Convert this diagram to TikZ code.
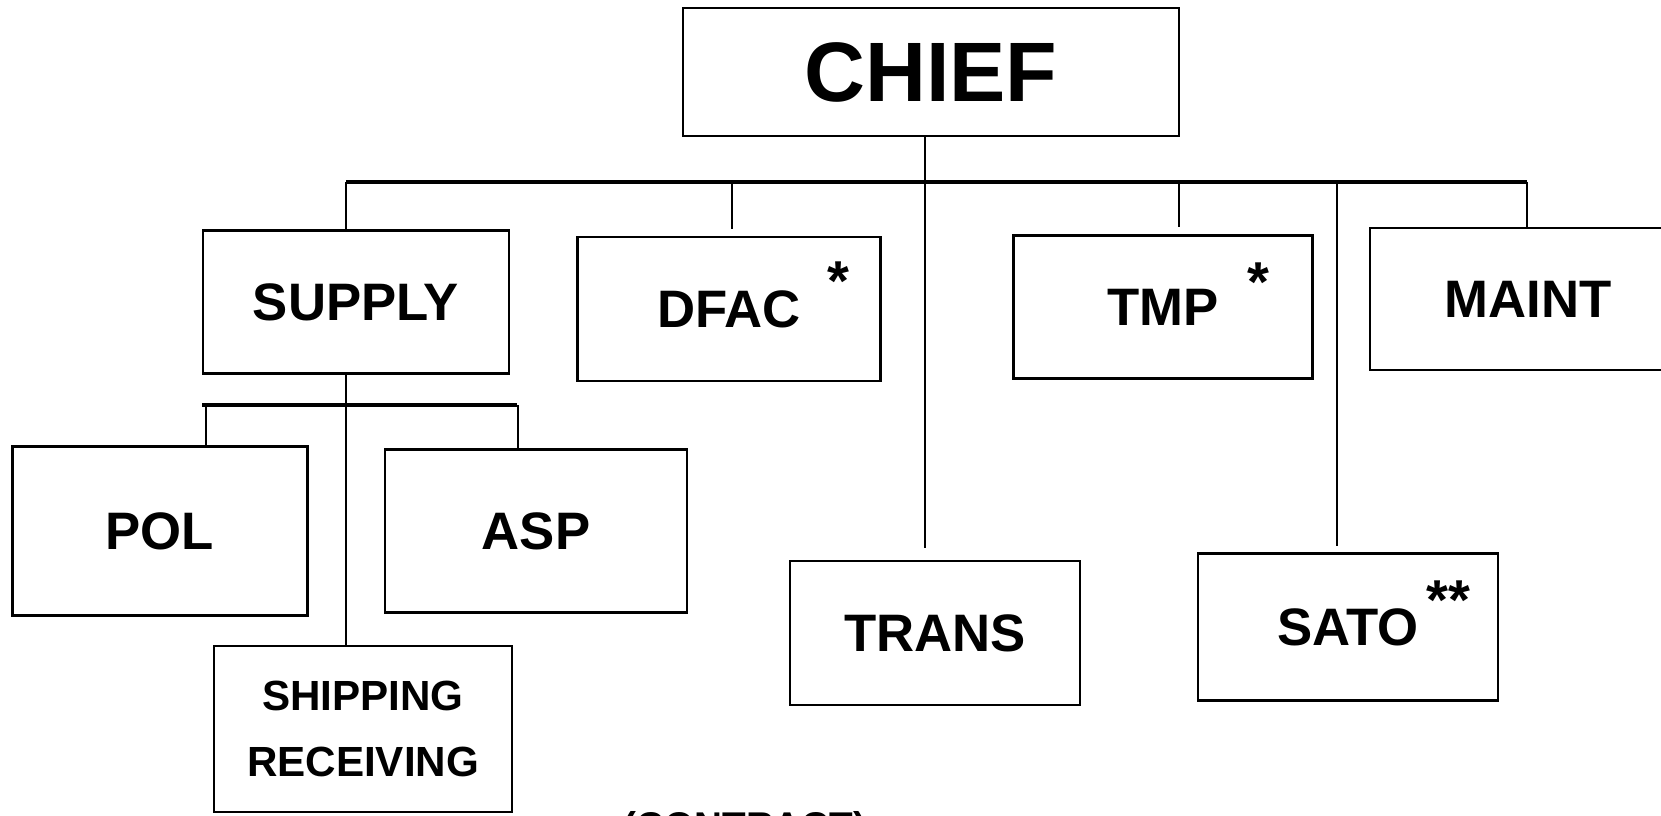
\documentclass[tikz,border=0pt]{standalone}
\usepackage{fontspec}
\setmainfont{Liberation Sans}

\begin{document}
\begin{tikzpicture}[x=0.1mm,y=-0.1mm,
    box/.style={draw,line width=0.8pt,inner sep=0pt,align=center,
        font=\bfseries\fontsize{15}{18}\selectfont},
    link/.style={line width=0.6pt},
    bus/.style={line width=0.9pt},
    starsign/.style={anchor=north,inner sep=0pt,font=\bfseries\fontsize{16}{18}\selectfont}]

    \useasboundingbox (0,0) rectangle (1661,815);
    \clip (0,0) rectangle (1661,815);

    \node[box,minimum width=49.6mm,minimum height=12.8mm,
        font=\bfseries\fontsize{24}{28}\selectfont] (chief) at (931,72) {CHIEF};

    \node[box,minimum width=30.6mm,minimum height=14.3mm] (supply) at (356,302) {SUPPLY};
    \node[box,minimum width=30.3mm,minimum height=14.4mm] (dfac) at (729,309) {DFAC};
    \node[box,minimum width=29.9mm,minimum height=14.3mm] (tmp) at (1163,307) {TMP};
    \node[box,minimum width=31.6mm,minimum height=14.2mm] (maint) at (1528,299) {MAINT};
    \node[box,minimum width=29mm,minimum height=14.4mm] (trans) at (935,633) {TRANS};
    \node[box,minimum width=30mm,minimum height=14.7mm] (sato) at (1348,627) {SATO};

    \node[box,minimum width=29.5mm,minimum height=16.9mm] (pol) at (160,531) {POL};
    \node[box,minimum width=30.2mm,minimum height=16.3mm] (asp) at (536,531) {ASP};
    \node[box,minimum width=29.8mm,minimum height=16.6mm,
        font=\bfseries\fontsize{12}{19}\selectfont] (ship) at (363,729) {SHIPPING\\RECEIVING};

    \node[anchor=north,inner sep=0pt,font=\bfseries\fontsize{11}{13}\selectfont] (contract) at (745,811) {(CONTRACT)};

    % footnote marks
    \node[starsign] (dfacstar) at (838,261) {*};
    \node[starsign] (tmpstar) at (1258,262) {*};
    \node[starsign] (satostar) at (1448,580) {**};

    % main bus under the chief
    \coordinate (trunk) at (925,182);
    \coordinate (busleft) at (346,182);
    \coordinate (busright) at (1527,182);
    \draw[link,shorten >=1.2mm] (chief.south -| trunk) -- (trans.north -| trunk);
    \draw[bus] (busleft) -- (busright);
    \foreach \x/\n/\s in {346/supply/0,732/dfac/0.7,1179/tmp/0.7,1337/sato/0.6,1527/maint/0}
        \draw[link,shorten >=\s mm] (\x,182) -- (\x,182 |- \n.north);

    % supply branch
    \coordinate (subleft) at (202,405);
    \coordinate (subright) at (517,405);
    \draw[link] (busleft |- supply.south) -- (busleft |- ship.north);
    \draw[bus] (subleft) -- (subright);
    \foreach \x/\n in {206/pol,518/asp}
        \draw[link] (\x,405) -- (\x,405 |- \n.north);

\end{tikzpicture}
\end{document}
